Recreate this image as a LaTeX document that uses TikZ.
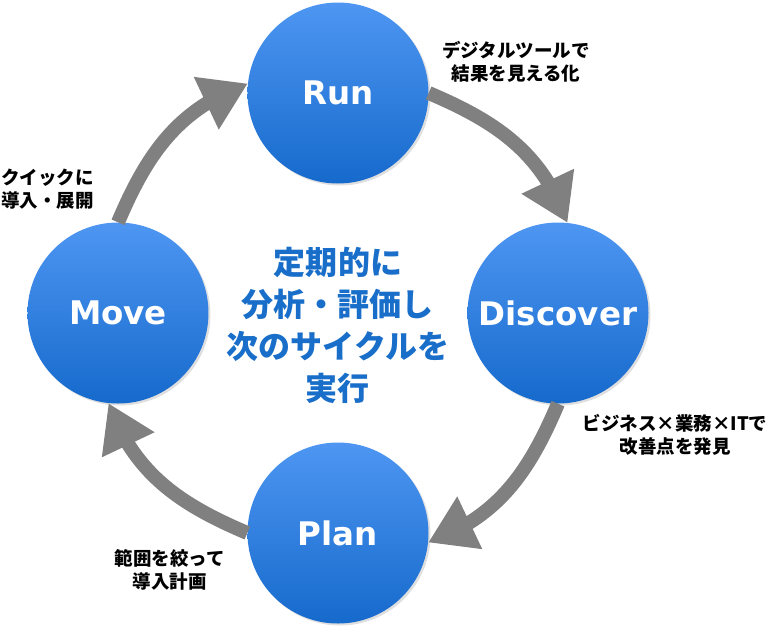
\documentclass[tikz,border=0pt]{standalone}
\usepackage{fontspec}
\usepackage{xcolor}
\usepackage{tikz}
\usetikzlibrary{arrows.meta, bending, positioning, shadows}
\newfontfamily\jpfont{Noto Sans CJK JP}
\newfontfamily\latfont{DejaVu Sans}

\definecolor{cyctop}{RGB}{78,150,242}
\definecolor{cycbot}{RGB}{22,106,204}
\definecolor{midblue}{RGB}{24,110,200}
\definecolor{arrgray}{RGB}{128,128,128}

\begin{document}
\begin{tikzpicture}[
  x=1pt, y=1pt,
  phase/.style={circle, minimum size=181pt, inner sep=0pt, top color=cyctop, bottom color=cycbot,
                drop shadow={shadow xshift=2pt, shadow yshift=-2pt, opacity=0.25},
                font=\latfont\bfseries\fontsize{32.5}{38}\selectfont, text=white},
  cyc/.style={-{Triangle[length=46pt, width=55pt, flex]}, line width=14pt, arrgray},
  note/.style={font=\jpfont\bfseries\fontsize{18.5}{23}\selectfont, align=center, inner sep=0pt},
]
  \useasboundingbox (-338,-328) rectangle (432,313);

  \node[font=\jpfont\bfseries\fontsize{32}{42}\selectfont, text=midblue, align=center] (core) at (0,-12)
    {定期的に\\分析・評価し\\次のサイクルを\\実行};

  \node[phase] (Run)      at (0,220)   {Run};
  \node[phase] (Discover) at (220,0)   {Discover};
  \node[phase] (Plan)     at (0,-220)  {Plan};
  \node[phase] (Move)     at (-220,0)  {Move};

  \draw[cyc] (Run.0)        to[out=-23,  in=110] (Discover.84);
  \draw[cyc] (Discover.-90) to[out=-113, in=20]  (Plan.-6);
  \draw[cyc] (Plan.180)     to[out=157,  in=-70] (Move.-96);
  \draw[cyc] (Move.90)      to[out=67,   in=200] (Run.174);

  \node[note] (runnote)  at (178,251)   {デジタルツールで\\結果を見える化};
  \node[note] (discnote) at (337,-122)  {ビジネス×業務×ITで\\改善点を発見};
  \node[note] (plannote) at (-168,-257) {範囲を絞って\\導入計画};
  \node[note, align=left, anchor=west] (movenote) at (-337,124) {クイックに\\導入・展開};
\end{tikzpicture}
\end{document}
